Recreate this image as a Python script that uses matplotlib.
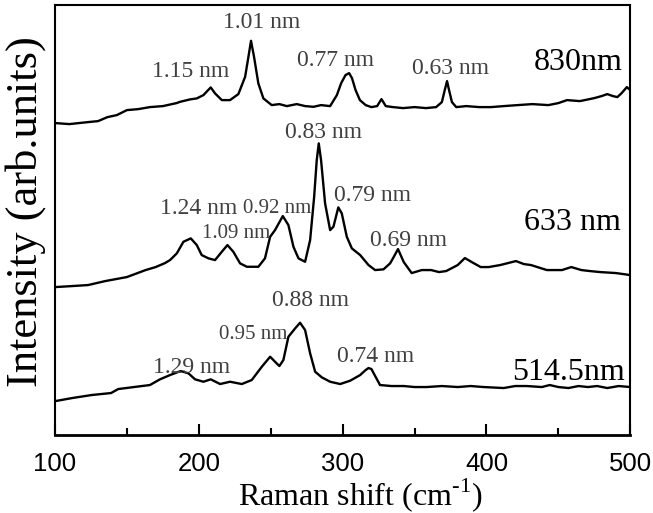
import numpy as np
import matplotlib.pyplot as plt

plt.rcParams['mathtext.fontset'] = 'custom'
plt.rcParams['mathtext.rm'] = 'Liberation Serif'

# Raman shift (cm-1) and intensity (arb. units, already offset)
x_830 = [100.5, 110, 123, 130, 136.5, 143, 150, 158, 166, 175, 184.5, 187, 193.9, 198.6,
         203.2, 208.3, 211.3, 216, 221.7, 227.5, 232.2, 234.5, 236.3, 238.4, 241.4, 244.9,
         250.7, 256, 261.2, 268.1, 274, 279.7, 285, 291.3, 296, 299, 302, 304.5, 306.5,
         309, 312, 316, 320, 324, 327, 330, 335, 342, 350, 358, 365, 369, 371, 372.6, 374,
         376, 379, 386, 395, 403, 412, 421.7, 432, 443, 450, 456, 465, 475, 480, 484, 488,
         491, 494, 497.6, 500]
y_830 = [312, 311, 313, 314, 318, 320, 325, 326, 328, 329, 332, 333.3, 335.7, 336.7,
         340, 347.7, 341.7, 335, 335, 341, 358.3, 378.3, 394.3, 378.3, 351.7, 336.7,
         330, 331, 329, 331, 329, 328.3, 330, 329, 340, 352, 360, 362, 357,
         345, 335, 330, 328, 329, 336, 329, 328, 327, 328, 327, 328, 333, 345, 354, 345,
         333, 328, 329, 328, 328, 329, 330, 331, 330, 332, 335, 334, 337, 339, 341, 339,
         338, 342, 348, 345]

x_633 = [100.5, 112, 123, 135, 150, 163, 170, 176.5, 180, 184.7, 189.3, 194.4, 198.6, 202,
         206.7, 211.3, 216, 219.9, 224, 228.7, 233.4, 241.4, 246, 249.6, 253, 258.4, 262.3,
         265.8, 269.3, 273.9, 277.4, 280.2, 282, 283.4, 285, 287.8, 291.3, 293.6, 297,
         299.4, 302.9, 306.4, 312.2, 318, 322.6, 328.4, 333, 335.5, 338.5, 342.5, 348, 355,
         361.5, 367, 372, 380, 385, 391, 396, 401.5, 409.5, 415, 420.5, 426, 431, 442,
         452.5, 459, 466, 472, 479, 490, 500]
y_633 = [148, 149, 150, 154, 158, 165, 168, 172, 175, 181.7, 193.3, 196.7, 190, 180,
         176.7, 175, 183.3, 190, 183.3, 171.7, 168.3, 168.3, 176.7, 198.3, 205, 219, 210,
         188.3, 176.7, 173.3, 195, 238.3, 275, 291.7, 275, 231.7, 205, 208.3, 227.7,
         221.7, 198.3, 186.7, 180, 170, 165, 165.7, 171.7, 178, 186, 173, 162, 165,
         165, 163, 164, 170, 177, 172, 168, 168, 170, 172, 174, 171, 170, 165,
         165, 168, 165, 164, 163, 162, 160]

x_514 = [100.5, 112, 125.5, 139, 144, 155, 166, 173, 180, 187.4, 192.8, 197.4, 203.2,
         208.3, 214.8, 221.7, 229.9, 236.8, 243.8, 249.6, 253, 256, 258.8, 262.3, 267,
         270.4, 273.9, 277.4, 280.9, 285.5, 291.3, 298.3, 305.2, 312.2, 316, 318, 320, 323,
         326, 334, 342.5, 350, 358.5, 369, 380, 389, 398, 412, 420, 428, 438.5, 444, 450,
         457, 464, 470.5, 477, 484, 492, 500]
y_514 = [34, 37, 40, 42, 46, 48, 50, 55.7, 60, 64, 61.7, 55.7, 53.3,
         55.7, 51, 53.3, 51, 55, 68.3, 78.3, 73.3, 69, 75, 98.3, 106.7,
         112.3, 105, 81.7, 63.3, 57.7, 53.3, 51, 54.3, 60, 65, 67, 66, 58,
         50, 49, 49, 48, 48, 49, 48, 49, 48, 47, 49, 49, 48, 50, 48,
         47, 49, 48, 49, 47, 49, 48]

# peak assignments: (label, x, y, fontsize)
labels_830 = [("1.01 nm", 244, 413, 17), ("1.15 nm", 194.6, 364, 17),
              ("0.77 nm", 295, 375, 17), ("0.63 nm", 375, 367, 17)]
labels_633 = [("0.83 nm", 287, 303, 17), ("1.24 nm", 200, 227, 17),
              ("0.92 nm", 254.5, 227, 15), ("1.09 nm", 226, 202, 15),
              ("0.79 nm", 320.5, 240, 17), ("0.69 nm", 345.5, 195, 17)]
labels_514 = [("0.88 nm", 278, 135, 17), ("0.95 nm", 238, 101, 15),
              ("1.29 nm", 195, 68, 17), ("0.74 nm", 322.6, 79, 17)]
lasers = [("830nm", 464, 373), ("633 nm", 460, 213), ("514.5nm", 457, 63)]

fig = plt.figure(figsize=(6.53, 5.13), dpi=100)
ax = fig.add_axes([0.0842, 0.152, 0.881, 0.838])

for xs, ys in [(x_830, y_830), (x_633, y_633), (x_514, y_514)]:
    ax.plot(xs, ys, color='black', lw=1.7, solid_joinstyle='round')

serif = 'Liberation Serif'
for lab, lx, ly, fs in labels_830 + labels_633 + labels_514:
    ax.text(lx, ly, lab, ha='center', va='center', fontsize=fs,
            family=serif, color='#404040')
for lab, lx, ly in lasers:
    ax.text(lx, ly, lab, ha='center', va='center', fontsize=23,
            family=serif, color='black')

ax.set_xlim(100, 500)
ax.set_ylim(0, 430)
ax.set_yticks([])
ax.set_xticks([100, 200, 300, 400, 500])
ax.set_xticks(np.arange(150, 500, 100), minor=True)
ax.tick_params(axis='x', which='major', direction='in', length=8, width=1.5,
               labelsize=18.5, pad=12)
ax.tick_params(axis='x', which='minor', direction='in', length=5, width=1.5)
for lbl in ax.get_xticklabels():
    lbl.set_family('Liberation Sans')
for sp in ax.spines.values():
    sp.set_linewidth(1.5)
ax.spines['bottom'].set_linewidth(2)

ax.set_xlabel('Raman shift (cm$^{\\text{-1}}$)', family=serif, fontsize=23)
ax.xaxis.set_label_coords(0.53, -0.095)
ax.set_ylabel('Intensity (arb.units)', family=serif, fontsize=32)
ax.yaxis.set_label_coords(-0.016, 0.52)

fig.savefig('out.png', dpi=100)
